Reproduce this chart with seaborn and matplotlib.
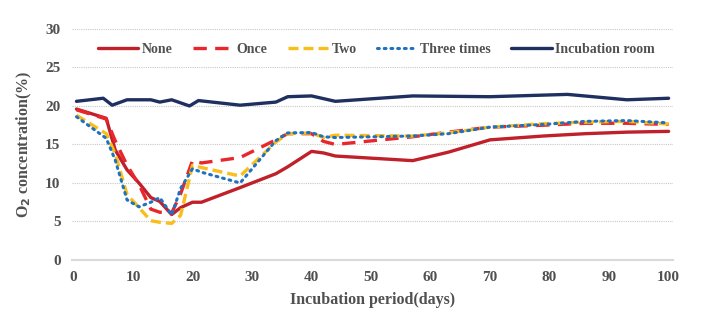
import matplotlib
matplotlib.use("Agg")
import matplotlib.pyplot as plt
import seaborn as sns
import pandas as pd

# Sampling days shared by the four treatment series
days = [0.5, 5.5, 7, 9, 11, 13, 14.5, 16.5, 18, 20, 21.5, 28, 34, 36, 40, 42, 44,
        57, 63, 70, 79, 86, 93, 100]
o2_none = [19.6, 18.4, 14.3, 11.7, 10.0, 8.1, 7.6, 5.9, 6.8, 7.5, 7.5, 9.4, 11.2, 12.1,
           14.1, 13.9, 13.5, 12.9, 14.0, 15.6, 16.1, 16.4, 16.6, 16.7]
o2_once = [19.5, 18.3, 15.5, 12.3, 9.8, 6.6, 6.2, 6.1, 8.6, 12.9, 12.6, 13.3, 15.6, 16.4,
           16.4, 15.4, 15.0, 16.0, 16.6, 17.25, 17.5, 17.75, 17.75, 17.6]
o2_two = [18.8, 16.4, 13.8, 8.5, 6.8, 5.1, 4.9, 4.75, 5.8, 12.3, 12.0, 10.9, 15.3, 16.4,
          16.5, 15.9, 16.2, 16.1, 16.5, 17.25, 17.7, 17.9, 18.0, 17.65]
o2_three = [18.6, 15.8, 13.0, 7.8, 6.9, 7.5, 8.1, 5.85, 9.3, 11.85, 11.4, 10.0, 15.5, 16.5,
            16.55, 16.0, 15.9, 16.1, 16.4, 17.25, 17.6, 18.0, 18.1, 17.8]

# Incubation room readings
room_days = [0.5, 5, 6.5, 9, 13, 14.5, 16.5, 19.5, 21, 28, 34, 36, 40, 44, 57, 70, 83, 93, 100]
o2_room = [20.6, 21.0, 20.1, 20.8, 20.8, 20.5, 20.8, 20.0, 20.7, 20.1, 20.5, 21.2, 21.3,
           20.6, 21.3, 21.2, 21.5, 20.8, 21.0]

x_ticks = [0, 10, 20, 30, 40, 50, 60, 70, 80, 90, 100]
y_ticks = [0, 5, 10, 15, 20, 25, 30]

sns.set_theme(style="white")
plt.rcParams["font.family"] = ["Liberation Serif", "DejaVu Serif"]
plt.rcParams["font.weight"] = "bold"

fig = plt.figure(figsize=(7.03, 3.25), dpi=100)
ax = fig.add_axes([0.102, 0.2, 0.855, 0.711])

series = [
    ("None", days, o2_none, dict(color="#C0202A", linestyle="-", linewidth=2.4)),
    ("Once", days, o2_once, dict(color="#E8262B", linestyle=(0, (4, 2.5)), linewidth=2.4)),
    ("Two", days, o2_two, dict(color="#F9BE1A", linestyle=(0, (3, 1.5)), linewidth=2.4)),
    ("Three times", days, o2_three, dict(color="#1F72C0", linestyle=(0, (0.6, 1.6)),
                                        linewidth=2.2, dash_capstyle="round")),
    ("Incubation room", room_days, o2_room, dict(color="#1F3060", linestyle="-", linewidth=2.4)),
]

for label, xs, ys, style in series:
    df = pd.DataFrame({"day": xs, "o2": ys})
    sns.lineplot(data=df, x="day", y="o2", ax=ax, label=label, estimator=None,
                 sort=False, **style)

ax.set_xlim(-0.3, 100.7)
ax.set_ylim(0, 30)
ax.set_xticks(x_ticks)
ax.set_yticks(y_ticks)
ax.tick_params(axis="both", length=0, labelsize=11, colors="#505050", pad=8)
for lbl in ax.get_xticklabels() + ax.get_yticklabels():
    lbl.set_fontweight("bold")

ax.yaxis.grid(True, color="#C8C8C8", linestyle=(0, (1, 1)), linewidth=0.8)
ax.xaxis.grid(False)
for side in ["top", "right", "left"]:
    ax.spines[side].set_visible(False)
ax.spines["bottom"].set_color("#D9D9D9")
ax.spines["bottom"].set_linewidth(1.5)

ax.set_xlabel("Incubation period(days)", fontsize=11.5, fontweight="bold",
              color="#505050", labelpad=6)
ax.set_ylabel(r"O$_\mathbf{2}$ concentration(%)", fontsize=11.5, fontweight="bold",
              color="#505050", labelpad=8)

leg = ax.legend(loc="upper center", bbox_to_anchor=(0.507, 0.995), ncol=5, frameon=False,
                handlelength=2.9, handletextpad=0.25, columnspacing=1.45,
                prop={"weight": "bold", "size": 10})
for t in leg.get_texts():
    t.set_color("#505050")

fig.savefig("out.png", dpi=100)
